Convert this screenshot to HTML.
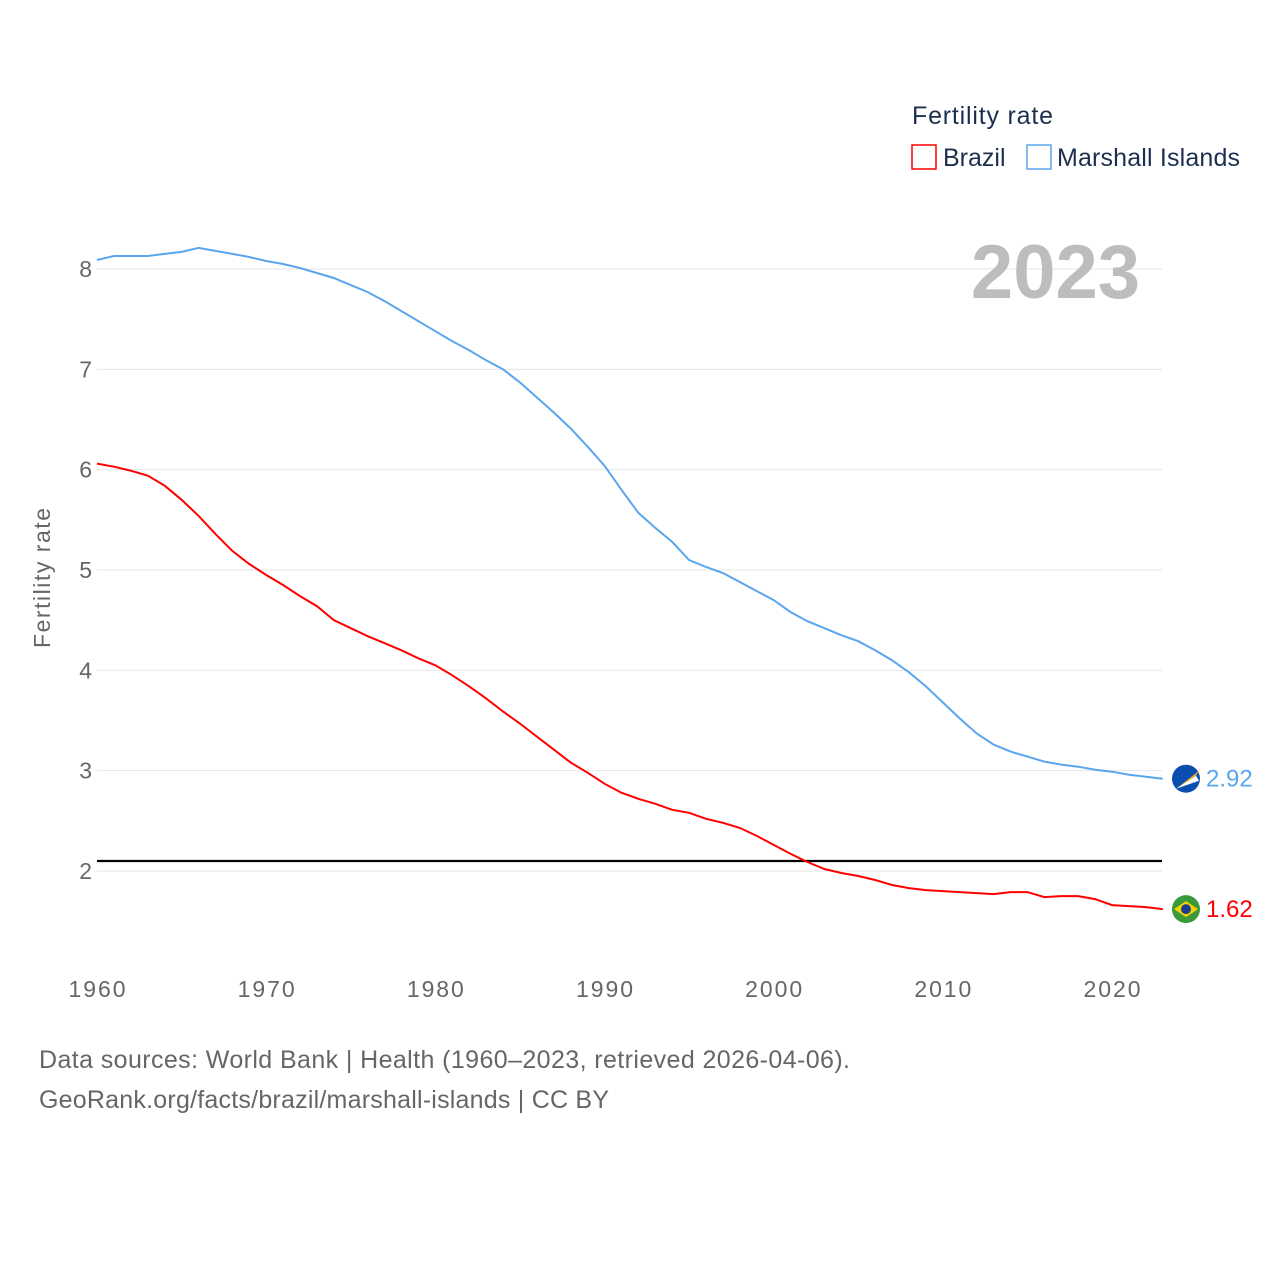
<!DOCTYPE html>
<html><head><meta charset="utf-8"><style>
body{margin:0;background:#fff;}
svg text{font-family:"Liberation Sans",sans-serif;}
</style></head><body>
<svg id="c" width="1280" height="1280" xmlns="http://www.w3.org/2000/svg">
<rect width="1280" height="1280" fill="#fff"/>
<g id="grid"></g>
<g id="lines"></g>
<text x="1140" y="298" text-anchor="end" font-size="76" font-weight="bold" fill="#bdbdbd">2023</text>
<text x="912" y="124" font-size="25" fill="#1c2f4f" textLength="141">Fertility rate</text>
<g><rect x="912" y="145" width="24" height="24" fill="none" stroke="#f00" stroke-width="1.5"/><text x="943" y="166" font-size="25" fill="#1c2f4f">Brazil</text></g>
<g><rect x="1027" y="145" width="24" height="24" fill="none" stroke="#5aa6ee" stroke-width="1.5"/><text x="1057" y="166" font-size="25" fill="#1c2f4f" textLength="183">Marshall Islands</text></g>
<text transform="translate(50,578) rotate(-90)" text-anchor="middle" font-size="23" fill="#666" textLength="140">Fertility rate</text>
<text x="39" y="1068" font-size="25" fill="#666" textLength="811">Data sources: World Bank | Health (1960–2023, retrieved 2026-04-06).</text>
<text x="39" y="1108" font-size="25" fill="#666" textLength="570">GeoRank.org/facts/brazil/marshall-islands | CC BY</text>
</svg>
<script>
const years=[];for(let y=1960;y<=2023;y++)years.push(y);
const brazil=[6.06,6.03,5.99,5.94,5.84,5.70,5.54,5.36,5.19,5.06,4.95,4.85,4.74,4.64,4.50,4.42,4.34,4.27,4.20,4.12,4.05,3.95,3.84,3.72,3.59,3.47,3.34,3.21,3.08,2.98,2.87,2.78,2.72,2.67,2.61,2.58,2.52,2.48,2.43,2.35,2.26,2.17,2.09,2.02,1.98,1.95,1.91,1.86,1.83,1.81,1.80,1.79,1.78,1.77,1.79,1.79,1.74,1.75,1.75,1.72,1.66,1.65,1.64,1.62];
const marshall=[8.09,8.13,8.13,8.13,8.15,8.17,8.21,8.18,8.15,8.12,8.08,8.05,8.01,7.96,7.91,7.84,7.77,7.68,7.58,7.48,7.38,7.28,7.19,7.09,7.00,6.87,6.72,6.57,6.41,6.23,6.04,5.80,5.57,5.42,5.28,5.10,5.03,4.97,4.88,4.79,4.70,4.58,4.49,4.42,4.35,4.29,4.20,4.10,3.98,3.84,3.68,3.52,3.37,3.26,3.19,3.14,3.09,3.06,3.04,3.01,2.99,2.96,2.94,2.92];
const yTicks=[2,3,4,5,6,7,8];
const xTicks=[1960,1970,1980,1990,2000,2010,2020];
const replacement=2.1;
const NS="http://www.w3.org/2000/svg";
const X=y=>97+(y-1960)*(1015/60);
const Y=v=>269+(8-v)*(602/6);
function el(t,a,p){const e=document.createElementNS(NS,t);for(const k in a)e.setAttribute(k,a[k]);p.appendChild(e);return e;}
const g=document.getElementById('grid'),L=document.getElementById('lines');
yTicks.forEach(v=>{
const l=el('line',{x1:97,x2:1162,y1:Y(v),y2:Y(v),stroke:'#e6e6e6','stroke-width':1},g);


const t=el('text',{x:92,y:Y(v)+8,'text-anchor':'end','font-size':23,fill:'#666'},g);t.textContent=v;


});
xTicks.forEach(v=>{
const t=el('text',{x:X(v),y:997,'text-anchor':'middle','font-size':23,fill:'#666',textLength:57},g);t.textContent=v;


});
const rl=el('line',{x1:97,x2:1162,y1:Y(replacement),y2:Y(replacement),stroke:'#000','stroke-width':2.2},L);


function series(vals,color,name,label){
const d=vals.map((v,i)=>(i?'L':'M')+X(years[i]).toFixed(1)+','+Y(v).toFixed(1)).join('');
const p=el('path',{d:d,fill:'none',stroke:color,'stroke-width':2},L);


const lv=vals[vals.length-1],ly=Y(lv);
const c=el('circle',{cx:1186,cy:ly,r:14,fill:color==='#f00'?'#3a9a3a':'#0a4fb0'},L);


if(color==='#f00'){el('path',{d:`M1174,${ly}L1186,${ly-8}L1198,${ly}L1186,${ly+8}Z`,fill:'#f6d200'},L);el('circle',{cx:1186,cy:ly,r:5,fill:'#1c3d8f'},L);}
else{el('path',{d:`M1176,${ly+10}L1199,${ly-8}L1196,${ly-3}Z`,fill:'#f5a623'},L);el('path',{d:`M1176,${ly+10}L1196,${ly-3}L1199,${ly+2}Z`,fill:'#fff'},L);}
const t=el('text',{x:1206,y:ly+8,'font-size':24,fill:color==='#f00'?'#f00':'#5aa6ee'},L);t.textContent=label;


}
series(marshall,'#5aa6ee','marshall-islands',marshall[marshall.length-1].toFixed(2));
series(brazil,'#f00','brazil',brazil[brazil.length-1].toFixed(2));
</script>
</body></html>
